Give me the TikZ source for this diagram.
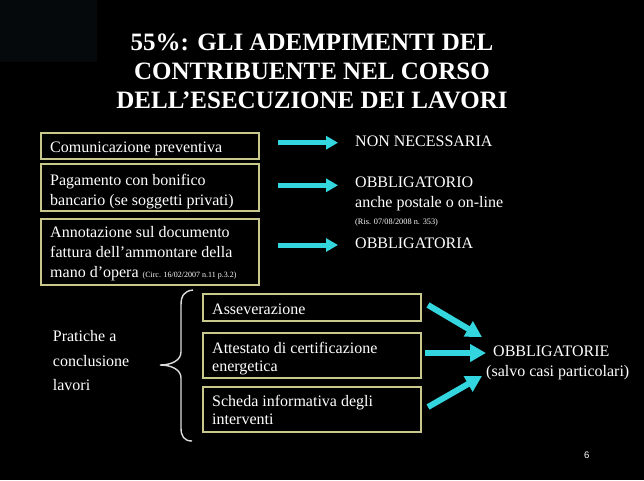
\documentclass[tikz,border=0pt]{standalone}
\usepackage{fontspec}
\setmainfont{Liberation Serif}
\newfontfamily\numfont{Liberation Sans}
\usetikzlibrary{arrows.meta}
\definecolor{boxline}{RGB}{200,200,140}
\definecolor{arrowcyan}{RGB}{51,214,222}
\definecolor{darkpanel}{RGB}{5,9,11}
\definecolor{bracecol}{RGB}{220,220,220}
\begin{document}
\begin{tikzpicture}[x=1pt,y=-1pt,
  box/.style={draw=boxline, line width=2.3pt, anchor=north west, inner sep=0pt, minimum width=218pt},
  txt/.style={text=white, inner sep=0pt, align=left, font=\fontsize{16}{20}\selectfont},
  txtb/.style={text=white, inner sep=0pt, align=left, font=\fontsize{16}{18}\selectfont},
  titlestyle/.style={text=white, inner sep=0pt, align=center, font=\bfseries\fontsize{25}{29}\selectfont},
  toparrow/.style={draw=arrowcyan, line width=5pt, -{Triangle[length=12pt,width=13pt]}},
  botarrow/.style={draw=arrowcyan, line width=6pt, -{Triangle[length=16pt,width=17pt]}},
  bracestyle/.style={draw=bracecol, line width=1.4pt}
]
\useasboundingbox (0,0) rectangle (644,480);
\fill[black] (0,0) rectangle (644,480);
\fill[darkpanel] (0,0) rectangle (97,62);

% title
\node[titlestyle, anchor=north] (title) at (312,33.7) {55\%: GLI ADEMPIMENTI DEL\\CONTRIBUENTE NEL CORSO\\DELL’ESECUZIONE DEI LAVORI};

% top boxes
\node[box, minimum height=26pt] (b1) at (40,132) {};
\node[box, minimum height=47pt] (b2) at (40,163) {};
\node[box, minimum height=66pt] (b3) at (40,218) {};
\node[txt, anchor=base west] (t1) at (50,152) {Comunicazione preventiva};
\node[txt, anchor=north west] (t2) at (50,174) {Pagamento con bonifico\\bancario (se soggetti privati)};
\node[txt, anchor=north west] (t3) at (50,226) {Annotazione sul documento\\fattura dell’ammontare della\\mano d’opera {\fontsize{8}{8}\selectfont (Circ. 16/02/2007 n.11 p.3.2)}};

% top right texts
\node[txt, anchor=base west] (r1) at (355,146) {NON NECESSARIA};
\node[txt, anchor=base west] (r2) at (355,187.7) {OBBLIGATORIO};
\node[txt, anchor=base west] (r2b) at (355,207) {anche postale o on-line};
\node[txt, anchor=base west, font=\fontsize{8.3}{9}\selectfont] (r2c) at (355,224) {(Ris. 07/08/2008 n. 353)};
\node[txt, anchor=base west] (r3) at (355,248) {OBBLIGATORIA};

% top arrows
\coordinate (a1s) at (278,142.7);
\coordinate (a1e) at (338,142.7);
\coordinate (a2s) at (278,185.3);
\coordinate (a2e) at (338,185.3);
\coordinate (a3s) at (278,245);
\coordinate (a3e) at (338,245);
\draw[toparrow] (a1s) -- (a1e);
\draw[toparrow] (a2s) -- (a2e);
\draw[toparrow] (a3s) -- (a3e);

% bottom section
\node[txt, anchor=north west, font=\fontsize{16}{24.8}\selectfont] (pr) at (52.7,330) {Pratiche a\\conclusione\\lavori};
\draw[bracestyle] (193,290) .. controls (184,291) and (181,296) .. (181,305) -- (181,352)
  .. controls (181,360) and (172,365) .. (160,365)
  .. controls (172,365) and (181,370) .. (181,378) -- (181,428)
  .. controls (181,436) and (184,441) .. (192,441);

\node[box, minimum height=27pt] (b4) at (202,293) {};
\node[box, minimum height=45pt] (b5) at (202,332) {};
\node[box, minimum height=45pt] (b6) at (202,386) {};
\node[txtb, anchor=base west] (t4) at (212,314) {Asseverazione};
\node[txtb, anchor=north west] (t5) at (212,341.7) {Attestato di certificazione\\energetica};
\node[txtb, anchor=north west] (t6) at (212,395) {Scheda informativa degli\\interventi};

\coordinate (c1s) at (428,305);
\coordinate (c1e) at (482,337);
\coordinate (c2s) at (425,353);
\coordinate (c2e) at (486,353);
\coordinate (c3s) at (428,407);
\coordinate (c3e) at (482,376);
\draw[botarrow] (c1s) -- (c1e);
\draw[botarrow] (c2s) -- (c2e);
\draw[botarrow] (c3s) -- (c3e);

\node[txt, anchor=base west] (ob) at (493,356) {OBBLIGATORIE};
\node[txt, anchor=base west] (sc) at (486,376) {(salvo casi particolari)};

\node[txt, anchor=base west, font=\numfont\fontsize{9.5}{10}\selectfont] (pg) at (584,458) {6};
\end{tikzpicture}
\end{document}
